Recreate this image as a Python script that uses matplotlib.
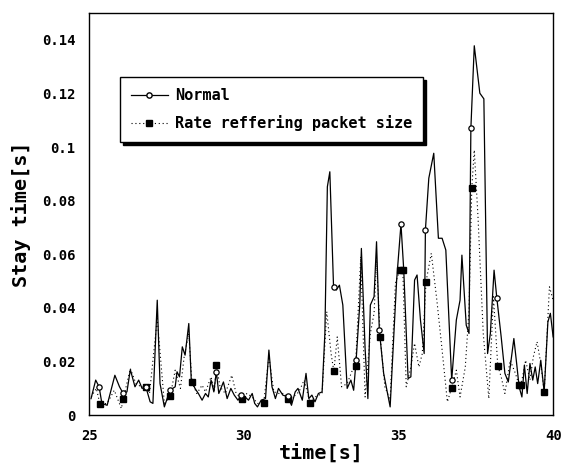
import matplotlib
matplotlib.use("Agg")
import matplotlib.pyplot as plt
from matplotlib.lines import Line2D

# Normal (solid line)
t_normal = [25.06, 25.21, 25.32, 25.41, 25.58, 25.83, 25.98, 26.10, 26.22, 26.33,
            26.48, 26.60, 26.71, 26.83, 26.97, 27.06, 27.20, 27.29, 27.43, 27.61,
            27.78, 27.84, 27.92, 28.01, 28.10, 28.22, 28.30, 28.42, 28.53, 28.65,
            28.76, 28.85, 28.94, 29.03, 29.11, 29.19, 29.34, 29.46, 29.58, 29.69,
            29.81, 29.92, 30.04, 30.15, 30.27, 30.35, 30.44, 30.56, 30.70, 30.81,
            30.91, 31.02, 31.12, 31.26, 31.43, 31.54, 31.66, 31.75, 31.89, 32.01,
            32.10, 32.20, 32.30, 32.41, 32.53, 32.62, 32.70, 32.78, 32.90, 32.99,
            33.09, 33.20, 33.34, 33.46, 33.55, 33.63, 33.75, 33.80, 33.92, 34.01,
            34.09, 34.21, 34.29, 34.38, 34.52, 34.73, 34.94, 35.08, 35.17, 35.31,
            35.40, 35.52, 35.60, 35.71, 35.83, 35.87, 35.98, 36.14, 36.29, 36.41,
            36.53, 36.72, 36.87, 36.99, 37.05, 37.19, 37.28, 37.34, 37.45, 37.63,
            37.76, 37.88, 37.97, 38.09, 38.18, 38.32, 38.44, 38.55, 38.73, 38.82,
            38.90, 38.99, 39.07, 39.16, 39.25, 39.34, 39.42, 39.50, 39.60, 39.71,
            39.83, 39.91, 40.00]
v_normal = [0.0062, 0.0131, 0.0106, 0.0044, 0.0037, 0.0149, 0.0106, 0.0081, 0.0087, 0.0170,
            0.0106, 0.0131, 0.0100, 0.0106, 0.0050, 0.0044, 0.0429, 0.0118, 0.0031, 0.0093,
            0.0106, 0.0162, 0.0143, 0.0255, 0.0224, 0.0342, 0.0131, 0.0100, 0.0081, 0.0056,
            0.0081, 0.0068, 0.0131, 0.0087, 0.0162, 0.0081, 0.0124, 0.0062, 0.0100, 0.0075,
            0.0056, 0.0075, 0.0068, 0.0056, 0.0081, 0.0044, 0.0031, 0.0056, 0.0062, 0.0243,
            0.0106, 0.0062, 0.0100, 0.0075, 0.0068, 0.0037, 0.0087, 0.0100, 0.0056, 0.0156,
            0.0062, 0.0075, 0.0050, 0.0081, 0.0087, 0.0305, 0.0852, 0.0908, 0.0479, 0.0467,
            0.0485, 0.0411, 0.0100, 0.0131, 0.0093, 0.0205, 0.0417, 0.0622, 0.0249, 0.0062,
            0.0411, 0.0442, 0.0647, 0.0317, 0.0156, 0.0031, 0.0504, 0.0713, 0.0541, 0.0137,
            0.0143, 0.0504, 0.0523, 0.0355, 0.0230, 0.0691, 0.0884, 0.0977, 0.0660, 0.0660,
            0.0616, 0.0131, 0.0355, 0.0429, 0.0597, 0.0336, 0.0305, 0.1070, 0.1378, 0.1201,
            0.1180, 0.0230, 0.0305, 0.0541, 0.0436, 0.0292, 0.0156, 0.0124, 0.0286, 0.0193,
            0.0106, 0.0068, 0.0187, 0.0081, 0.0193, 0.0131, 0.0180, 0.0118, 0.0205, 0.0087,
            0.0348, 0.0380, 0.0292]
t_normal_mk = [25.32, 26.10, 26.83, 27.61, 29.11, 29.92, 31.43, 32.90, 33.63, 34.38,
               35.08, 35.87, 36.72, 37.34, 38.18]
v_normal_mk = [0.0106, 0.0081, 0.0106, 0.0093, 0.0162, 0.0075, 0.0071, 0.0479, 0.0205, 0.0317,
               0.0713, 0.0691, 0.0131, 0.1070, 0.0436]

# Rate reffering packet size (dotted line)
t_rate = [25.00, 25.23, 25.35, 25.58, 25.81, 26.04, 26.10, 26.33, 26.51, 26.68,
          26.83, 26.95, 27.20, 27.43, 27.62, 27.78, 27.95, 28.07, 28.22, 28.32,
          28.48, 28.65, 28.76, 28.94, 29.05, 29.11, 29.23, 29.40, 29.61, 29.75,
          29.93, 30.10, 30.27, 30.44, 30.64, 30.81, 30.97, 31.14, 31.31, 31.43,
          31.60, 31.78, 31.95, 32.14, 32.30, 32.53, 32.68, 32.82, 32.91, 33.02,
          33.16, 33.34, 33.51, 33.61, 33.78, 33.92, 34.09, 34.21, 34.29, 34.41,
          34.56, 34.73, 34.90, 35.04, 35.14, 35.25, 35.40, 35.52, 35.66, 35.77,
          35.89, 36.06, 36.24, 36.41, 36.58, 36.72, 36.87, 36.99, 37.16, 37.28,
          37.37, 37.45, 37.57, 37.74, 37.92, 38.07, 38.21, 38.32, 38.44, 38.61,
          38.78, 38.90, 38.96, 39.11, 39.25, 39.36, 39.48, 39.60, 39.71, 39.88,
          40.00]
v_rate = [0.0056, 0.0100, 0.0041, 0.0044, 0.0093, 0.0025, 0.0060, 0.0174, 0.0118, 0.0106,
          0.0106, 0.0081, 0.0360, 0.0044, 0.0071, 0.0168, 0.0100, 0.0218, 0.0305, 0.0124,
          0.0081, 0.0112, 0.0087, 0.0143, 0.0093, 0.0187, 0.0106, 0.0081, 0.0149, 0.0081,
          0.0062, 0.0081, 0.0068, 0.0044, 0.0044, 0.0218, 0.0087, 0.0081, 0.0081, 0.0062,
          0.0068, 0.0087, 0.0131, 0.0046, 0.0068, 0.0081, 0.0386, 0.0230, 0.0164, 0.0292,
          0.0106, 0.0118, 0.0168, 0.0184, 0.0591, 0.0068, 0.0305, 0.0380, 0.0579, 0.0290,
          0.0106, 0.0056, 0.0492, 0.0541, 0.0541, 0.0106, 0.0180, 0.0268, 0.0180, 0.0230,
          0.0498, 0.0604, 0.0429, 0.0243, 0.0050, 0.0102, 0.0168, 0.0068, 0.0180, 0.0392,
          0.0849, 0.0989, 0.0740, 0.0305, 0.0062, 0.0442, 0.0184, 0.0143, 0.0081, 0.0205,
          0.0156, 0.0112, 0.0112, 0.0205, 0.0131, 0.0218, 0.0274, 0.0193, 0.0087, 0.0479,
          0.0429]
t_rate_mk = [25.35, 26.10, 26.83, 27.62, 28.32, 29.11, 29.93, 30.64, 31.43, 32.14,
             32.91, 33.61, 34.41, 35.04, 35.14, 35.89, 36.72, 37.37, 38.21, 38.90,
             38.96, 39.71]
v_rate_mk = [0.0041, 0.0060, 0.0106, 0.0071, 0.0124, 0.0187, 0.0062, 0.0044, 0.0062, 0.0046,
             0.0164, 0.0184, 0.0290, 0.0541, 0.0541, 0.0498, 0.0102, 0.0849, 0.0184, 0.0112,
             0.0112, 0.0087]

x_ticks = [25, 30, 35, 40]
y_ticks = [0, 0.02, 0.04, 0.06, 0.08, 0.1, 0.12, 0.14]
y_ticklabels = ['0', '0.02', '0.04', '0.06', '0.08', '0.1', '0.12', '0.14']

mono = 'DejaVu Sans Mono'

fig = plt.figure(figsize=(5.61, 4.66), dpi=100)
ax = fig.add_axes([0.159, 0.109, 0.827, 0.863])

ax.plot(t_rate, v_rate, color='black', linestyle=(0, (1, 2.5)), linewidth=0.8)
ax.plot(t_normal, v_normal, color='black', linestyle='-', linewidth=0.9)
ax.plot(t_rate_mk, v_rate_mk, linestyle='none', marker='s', markersize=5,
        markerfacecolor='black', markeredgecolor='black')
ax.plot(t_normal_mk, v_normal_mk, linestyle='none', marker='o', markersize=3.8,
        markerfacecolor='white', markeredgecolor='black', markeredgewidth=0.9)

ax.set_xlim(25, 40)
ax.set_ylim(0, 0.15)
ax.set_xticks(x_ticks)
ax.set_yticks(y_ticks)
ax.set_yticklabels(y_ticklabels)
ax.tick_params(length=0, pad=10)
for lab in ax.get_xticklabels() + ax.get_yticklabels():
    lab.set_family(mono)
    lab.set_fontweight('bold')
    lab.set_fontsize(10)
for s in ax.spines.values():
    s.set_linewidth(1.0)

ax.set_xlabel('time[s]', family=mono, fontweight='bold', fontsize=14.5, labelpad=0)
ax.set_ylabel('Stay time[s]', family=mono, fontweight='bold', fontsize=14.5, labelpad=8)

handles = [
    Line2D([], [], color='black', linestyle='-', linewidth=0.9, marker='o', markersize=3.8,
           markerfacecolor='white', markeredgecolor='black'),
    Line2D([], [], color='black', linestyle=(0, (1, 2.5)), linewidth=0.8, marker='s',
           markersize=5, markerfacecolor='black'),
]
leg = ax.legend(handles, ['Normal', 'Rate reffering packet size'],
                loc='upper left', bbox_to_anchor=(0.067, 0.84), borderaxespad=0,
                prop={'family': mono, 'weight': 'bold', 'size': 11},
                fancybox=False, framealpha=1, edgecolor='black',
                shadow={'color': 'black', 'alpha': 1}, handlelength=2.4,
                handletextpad=0.5, borderpad=0.7, labelspacing=0.8)
leg.get_frame().set_linewidth(1.0)

fig.savefig('out.png', dpi=100)
